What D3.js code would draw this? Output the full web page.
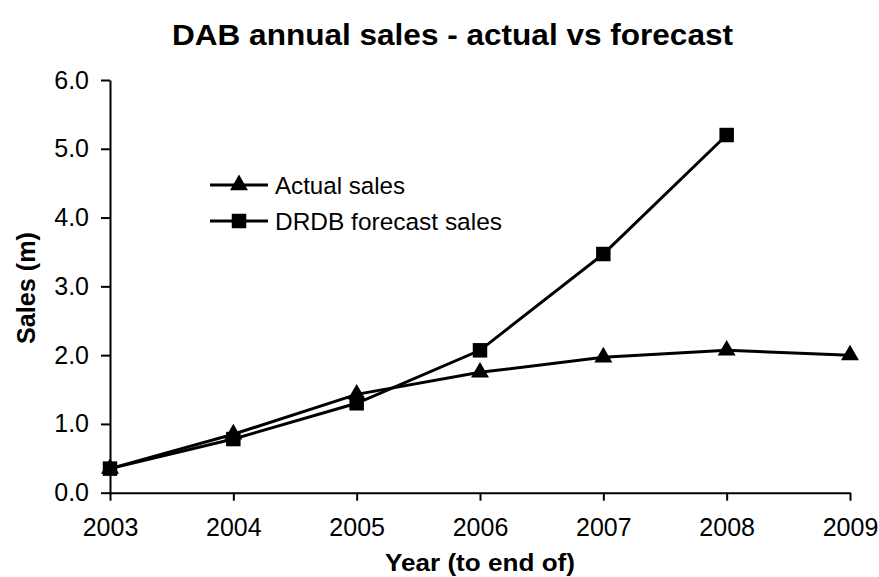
<!DOCTYPE html>
<html><head><meta charset="utf-8">
<script src="https://cdn.jsdelivr.net/npm/d3@7"></script>
<style>html,body{margin:0;padding:0;background:#fff}svg{display:block}</style>
</head><body>
<script>
const years = [2003, 2004, 2005, 2006, 2007, 2008, 2009];
const actualSales = [0.35, 0.85, 1.43, 1.75, 1.97, 2.07, 2.0];
const forecastYears = [2003, 2004, 2005, 2006, 2007, 2008];
const forecastSales = [0.35, 0.78, 1.30, 2.07, 3.47, 5.2];
const yTicks = [0, 1, 2, 3, 4, 5, 6];
const seriesNames = ["Actual sales", "DRDB forecast sales"];
const titleText = "DAB annual sales - actual vs forecast";
const xTitle = "Year (to end of)";
const yTitle = "Sales (m)";

const W = 879, H = 577;
const FONT = "Arial, 'Liberation Sans', sans-serif";
const svg = d3.select("body").append("svg").attr("width", W).attr("height", H)
  .style("font-family", FONT);

const x = d3.scaleLinear().domain([2003, 2009]).range([110, 850]);
const y = d3.scaleLinear().domain([0, 6]).range([492.7, 80]);

// axes
const yAxis = svg.append("g").attr("transform", "translate(110,0)")
  .call(d3.axisLeft(y).tickValues(yTicks).tickFormat(d3.format(".1f")).tickSize(9).tickSizeOuter(0).tickPadding(12));
const xAxis = svg.append("g").attr("transform", "translate(0,492.7)")
  .call(d3.axisBottom(x).tickValues(years).tickFormat(d3.format("d")).tickSize(8).tickSizeOuter(0).tickPadding(18));
[yAxis, xAxis].forEach(g => {
  g.select(".domain").attr("stroke", "#000").attr("stroke-width", 2);
  g.selectAll(".tick line").attr("stroke", "#000").attr("stroke-width", 2);
  g.selectAll(".tick text").attr("fill", "#000").style("font-size", "25px").style("font-family", FONT);
});

// lines
const actualData = years.map((yr, i) => ({x: yr, y: actualSales[i]}));
const forecastData = forecastYears.map((yr, i) => ({x: yr, y: forecastSales[i]}));
const line = d3.line().x(d => x(d.x)).y(d => y(d.y));

svg.append("path").datum(actualData).attr("d", line).attr("fill", "none").attr("stroke", "#000").attr("stroke-width", 3);
svg.append("path").datum(forecastData).attr("d", line).attr("fill", "none").attr("stroke", "#000").attr("stroke-width", 3);

const tri = d3.symbol().type(d3.symbolTriangle).size(140);
const sq = d3.symbol().type(d3.symbolSquare).size(210);

svg.selectAll(".tri").data(actualData).enter().append("path")
  .attr("d", tri).attr("transform", d => `translate(${x(d.x)},${y(d.y)})`).attr("fill", "#000");
svg.selectAll(".sq").data(forecastData).enter().append("path")
  .attr("d", sq).attr("transform", d => `translate(${x(d.x)},${y(d.y)})`).attr("fill", "#000");

// legend
const leg = svg.append("g");
const legRows = [{name: seriesNames[0], sym: tri, y: 185, w: 130}, {name: seriesNames[1], sym: sq, y: 221, w: 227}];
legRows.forEach(r => {
  leg.append("line").attr("x1", 210).attr("x2", 268).attr("y1", r.y).attr("y2", r.y).attr("stroke", "#000").attr("stroke-width", 3);
  leg.append("path").attr("d", r.sym).attr("transform", `translate(239,${r.y})`).attr("fill", "#000");
  leg.append("text").attr("x", 275).attr("y", r.y + 9).text(r.name)
    .attr("textLength", r.w).attr("lengthAdjust", "spacingAndGlyphs")
    .style("font-size", "24.5px").attr("fill", "#000");
});

// titles
svg.append("text").attr("x", 452.5).attr("y", 45).attr("text-anchor", "middle")
  .attr("textLength", 561).attr("lengthAdjust", "spacingAndGlyphs")
  .style("font-size", "30px").style("font-weight", "bold").text(titleText);
svg.append("text").attr("x", 480).attr("y", 571).attr("text-anchor", "middle")
  .attr("textLength", 190).attr("lengthAdjust", "spacingAndGlyphs")
  .style("font-size", "24px").style("font-weight", "bold").text(xTitle);
svg.append("text").attr("transform", "translate(35,288) rotate(-90)").attr("text-anchor", "middle")
  .attr("textLength", 112).attr("lengthAdjust", "spacingAndGlyphs")
  .style("font-size", "25px").style("font-weight", "bold").text(yTitle);
</script>
</body></html>
